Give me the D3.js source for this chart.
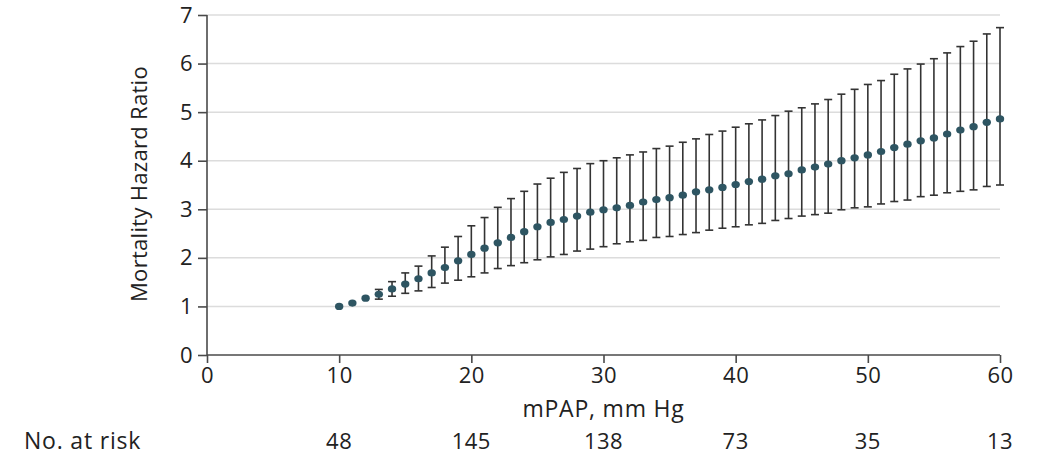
<!DOCTYPE html>
<html>
<head>
<meta charset="utf-8">
<script src="https://cdn.jsdelivr.net/npm/d3@7"></script>
<style>
  html, body { margin: 0; padding: 0; background: #fff; }
  svg { display: block; }
  text { font-family: "Open Sans", "Noto Sans", sans-serif; fill: #222; }
</style>
</head>
<body>
<svg id="chart" width="1041" height="457"></svg>
<script>
// mPAP (mm Hg)
const mpap = [10,11,12,13,14,15,16,17,18,19,20,21,22,23,24,25,26,27,28,29,30,
  31,32,33,34,35,36,37,38,39,40,41,42,43,44,45,46,47,48,49,50,
  51,52,53,54,55,56,57,58,59,60];
// Hazard ratio point estimates
const hr = [1.00,1.07,1.17,1.25,1.36,1.46,1.57,1.69,1.80,1.94,2.07,2.20,2.31,2.42,2.54,2.64,2.73,2.79,2.86,2.94,2.99,
  3.03,3.08,3.15,3.20,3.24,3.29,3.36,3.40,3.45,3.51,3.57,3.62,3.69,3.73,3.81,3.87,3.93,4.00,4.06,4.12,
  4.19,4.27,4.34,4.41,4.47,4.55,4.63,4.70,4.79,4.86];
// 95% CI lower bounds (null = no bar drawn)
const lower = [null,null,null,1.15,1.21,1.27,1.32,1.39,1.48,1.54,1.61,1.69,1.78,1.84,1.90,1.96,2.02,2.07,2.14,2.18,2.23,
  2.29,2.33,2.36,2.42,2.44,2.48,2.52,2.57,2.61,2.64,2.68,2.71,2.77,2.81,2.86,2.89,2.92,2.99,3.03,3.05,
  3.11,3.16,3.19,3.26,3.29,3.34,3.37,3.40,3.47,3.50];
// 95% CI upper bounds
const upper = [null,null,null,1.35,1.51,1.69,1.83,2.04,2.22,2.44,2.66,2.83,3.04,3.22,3.37,3.52,3.64,3.76,3.84,3.94,4.00,
  4.06,4.12,4.18,4.25,4.30,4.38,4.45,4.54,4.61,4.69,4.76,4.84,4.93,5.02,5.09,5.17,5.26,5.37,5.47,5.57,
  5.65,5.78,5.89,5.99,6.10,6.22,6.35,6.46,6.61,6.74];
const xTicks = [0,10,20,30,40,50,60];
const yTicks = [0,1,2,3,4,5,6,7];
const riskX = [10,20,30,40,50,60];
const riskN = [48,145,138,73,35,13];

const svg = d3.select("#chart");
const x = d3.scaleLinear().domain([0,60]).range([207,1000]);
const y = d3.scaleLinear().domain([0,7]).range([355,15]);

// gridlines
svg.append("g").selectAll("line").data(yTicks.filter(d => d > 0)).join("line")
  .attr("x1", x(0)).attr("x2", x(60))
  .attr("y1", d => y(d)).attr("y2", d => y(d))
  .attr("stroke", "#dcdcdc").attr("stroke-width", 1.5);

// axes
const yAxis = svg.append("g").attr("transform", `translate(${x(0)},0)`)
  .call(d3.axisLeft(y).tickValues(yTicks).tickSize(9).tickPadding(5).tickFormat(d3.format("d")));
const xAxis = svg.append("g").attr("transform", `translate(0,${y(0)})`)
  .call(d3.axisBottom(x).tickValues(xTicks).tickSize(8).tickPadding(4).tickFormat(d3.format("d")));
[yAxis, xAxis].forEach(g => {
  g.select(".domain").attr("stroke", "#4a4a4a").attr("stroke-width", 1.6);
  g.selectAll(".tick line").attr("stroke", "#4a4a4a").attr("stroke-width", 1.6);
  g.selectAll(".tick text").attr("font-size", 22).attr("fill", "#222").attr("letter-spacing", 0.5)
    .style("font-family", "\"Open Sans\", \"Noto Sans\", sans-serif");
});
xAxis.select(".domain").attr("d", `M${x(0)},0H${x(60)}`);
yAxis.select(".domain").attr("d", `M0,${y(7)}V${y(0)}`);

// error bars
const ci = mpap.map((m,i) => ({m, lo: lower[i], hi: upper[i]})).filter(d => d.lo != null);
const eb = svg.append("g").attr("stroke", "#333").attr("stroke-width", 1.6).attr("fill", "none");
eb.selectAll("line.v").data(ci).join("line").attr("class","v")
  .attr("x1", d => x(d.m)).attr("x2", d => x(d.m))
  .attr("y1", d => y(d.hi)).attr("y2", d => y(d.lo));
eb.selectAll("line.t").data(ci).join("line").attr("class","t")
  .attr("x1", d => x(d.m) - 4).attr("x2", d => x(d.m) + 4)
  .attr("y1", d => y(d.hi)).attr("y2", d => y(d.hi));
eb.selectAll("line.b").data(ci).join("line").attr("class","b")
  .attr("x1", d => x(d.m) - 4).attr("x2", d => x(d.m) + 4)
  .attr("y1", d => y(d.lo)).attr("y2", d => y(d.lo));

// points
svg.append("g").selectAll("ellipse").data(mpap.map((m,i) => ({m, v: hr[i]}))).join("ellipse")
  .attr("cx", d => x(d.m)).attr("cy", d => y(d.v))
  .attr("rx", 4.2).attr("ry", 3.6)
  .attr("fill", "#2e5562");

// y label
svg.append("text")
  .attr("transform", `translate(147,${(y(0)+y(7))/2 - 1}) rotate(-90)`)
  .attr("text-anchor", "middle").attr("font-size", 22)
  .attr("letter-spacing", 0.3)
  .text("Mortality Hazard Ratio");

// x label
svg.append("text").attr("x", x(30)).attr("y", 417)
  .attr("text-anchor", "middle").attr("font-size", 23).attr("letter-spacing", 0.8)
  .text("mPAP, mm Hg");

// number at risk
svg.append("text").attr("x", 24).attr("y", 449).attr("font-size", 23).attr("letter-spacing", 0.8)
  .text("No. at risk");
svg.append("g").selectAll("text").data(riskX.map((v,i) => ({v, n: riskN[i]}))).join("text")
  .attr("x", d => x(d.v)).attr("y", 449)
  .attr("text-anchor", "middle").attr("font-size", 22).attr("letter-spacing", 0.5)
  .text(d => d.n);
</script>
</body>
</html>
